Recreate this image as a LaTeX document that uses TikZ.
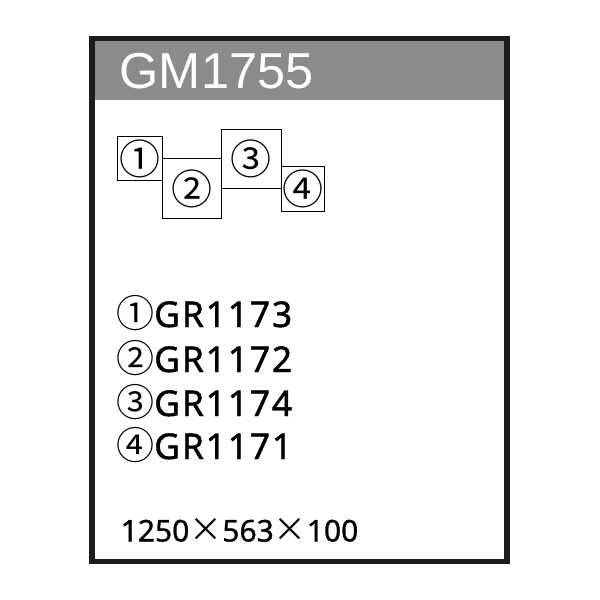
\documentclass[tikz,border=0pt]{standalone}
\usepackage{fontspec}
\newfontfamily\titlefont{Liberation Sans}
\newfontfamily\codefont[LetterSpace=5,FakeBold=1.2]{Noto Sans}
\newfontfamily\sizefont[FakeBold=1]{Noto Sans}
\newfontfamily\circfont{Noto Sans CJK JP}
\definecolor{framegray}{HTML}{1C1C1C}
\definecolor{headgray}{HTML}{8A8B8D}
\tikzset{
	partbox/.style={draw=black, line width=0.9pt, inner sep=0pt, anchor=north west, font=\circfont\fontsize{41}{41}\selectfont},
	codeline/.style={anchor=base west, inner sep=0pt, font=\fontsize{35.5}{35}\selectfont}
}
\newcommand{\circno}[1]{{\circfont\fontsize{38}{38}\selectfont #1}}
\newcommand{\timessign}{{\circfont\fontsize{33}{33}\selectfont ×}}
\begin{document}
\begin{tikzpicture}[x=1pt, y=-1pt]
	\useasboundingbox (0,0) rectangle (600,600);
	\fill [headgray] (94,41) rectangle (504.5,100);
	\draw [framegray, line width=5.5pt] (91.75,38.5) rectangle (507,561.25);
	\node [anchor=base west, inner sep=0pt, text=white, font=\titlefont\fontsize{50.5}{50}\selectfont] (title) at (119.5,88) {GM1755};
	\node [partbox, minimum width=44.5pt, minimum height=44pt] (p1) at (117.3,136) {①};
	\node [partbox, minimum width=59pt, minimum height=60pt] (p2) at (161.8,158.3) {②};
	\node [partbox, minimum width=60pt, minimum height=59pt] (p3) at (220.8,129.3) {③};
	\node [partbox, minimum width=43.5pt, minimum height=44.7pt] (p4) at (280.8,166) {④};
	\node [codeline] (l1) at (116,327) {\circno{①}\codefont GR1173};
	\node [codeline] (l2) at (116,372) {\circno{②}\codefont GR1172};
	\node [codeline] (l3) at (116,416) {\circno{③}\codefont GR1174};
	\node [codeline] (l4) at (116,459) {\circno{④}\codefont GR1171};
	\node [anchor=base west, inner sep=0pt, font=\sizefont\fontsize{30}{30}\selectfont] (size) at (120.5,541.5) {1250\timessign 563\timessign 100};
\end{tikzpicture}
\end{document}
